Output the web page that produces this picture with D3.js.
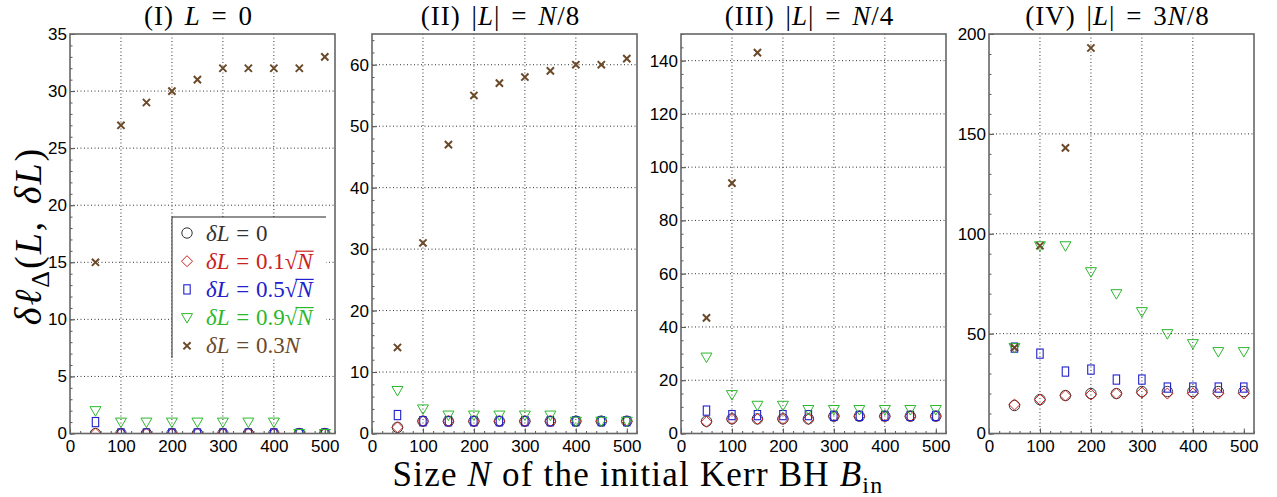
<!DOCTYPE html>
<html><head><meta charset="utf-8">
<script src="https://cdn.jsdelivr.net/npm/d3@7"></script>
<style>body{margin:0;background:#fff} svg{display:block}</style>
</head><body><svg id="c" width="1277" height="497"></svg>
<script>
// ---------- data ----------
const sizesN = [50,100,150,200,250,300,350,400,450,500];
const xTicks = [0,100,200,300,400,500];

// Panel I : L = 0
const p1_dL0  = [0,0,0,0,0,0,0,0,0,0];
const p1_d01  = [0,0,0,0,0,0,0,0,0,0];
const p1_d05  = [1,0,0,0,0,0,0,0,0,0];
const p1_d09  = [2,1,1,1,1,1,1,1,0,0];
const p1_d03N = [15,27,29,30,31,32,32,32,32,33];
// Panel II : |L| = N/8
const p2_dL0  = [1,2,2,2,2,2,2,2,2,2];
const p2_d01  = [1,2,2,2,2,2,2,2,2,2];
const p2_d05  = [3,2,2,2,2,2,2,2,2,2];
const p2_d09  = [7,4,3,3,3,3,3,2,2,2];
const p2_d03N = [14,31,47,55,57,58,59,60,60,61];
// Panel III : |L| = N/4
const p3_dL0  = [4.6,5.5,5.5,5.5,5.5,6.5,6.5,6.5,6.5,6.5];
const p3_d01  = [4.4,5.4,5.4,5.4,5.4,6.5,6.5,6.5,6.5,6.5];
const p3_d05  = [8.6,6.9,6.9,6.9,6.9,6.6,6.6,6.6,6.6,6.6];
const p3_d09  = [28.7,14.6,10.6,10.6,9,9,9,9,9,9];
const p3_d03N = [43.4,94,143,null,null,null,null,null,null,null];
// Panel IV : |L| = 3N/8
const p4_dL0  = [14,17,19,20,20,21,21,21,21,21];
const p4_d01  = [14.5,17,19,19.5,20,20.5,20,20,20,20];
const p4_d05  = [43,40,31,32,27,27,23,23,23,23];
const p4_d09  = [43,94,94,81,70,61,50,45,41,41];
const p4_d03N = [43,94,143,193,null,null,null,null,null,null];

const yMaxes   = [35,65,150,200];
const yMajor   = [5,10,20,50];
const yMinor   = [1,2,5,10];
const legendLabels = [
  [["δL",1],[" = 0",0]],
  [["δL",1],[" = 0.1",0],["√",2],["N",3]],
  [["δL",1],[" = 0.5",0],["√",2],["N",3]],
  [["δL",1],[" = 0.9",0],["√",2],["N",3]],
  [["δL",1],[" = 0.3",0],["N",1]]
];
const titles = [
  [["(I) ",0],["L",1],[" = 0",0]],
  [["(II) |",0],["L",1],["| = ",0],["N",1],["/8",0]],
  [["(III) |",0],["L",1],["| = ",0],["N",1],["/4",0]],
  [["(IV) |",0],["L",1],["| = 3",0],["N",1],["/8",0]]
];
const panelData = [
  [p1_dL0,p1_d01,p1_d05,p1_d09,p1_d03N],
  [p2_dL0,p2_d01,p2_d05,p2_d09,p2_d03N],
  [p3_dL0,p3_d01,p3_d05,p3_d09,p3_d03N],
  [p4_dL0,p4_d01,p4_d05,p4_d09,p4_d03N]
];

// ---------- style ----------
const colors = ["#333333","#cc2020","#2020cc","#2cb82c","#6b4a2a"];
const lefts = [70, 372, 681, 989];
const pw = 265, plotTop = 34, plotBottom = 433.5;
const serif = "'Liberation Serif', 'Times New Roman', serif";
const sans = "'Liberation Sans', Arial, sans-serif";

const svg = d3.select("#c");

function marker(g, type, cx, cy, color) {
  if (type === 0) {
    g.append("circle").attr("cx",cx).attr("cy",cy).attr("r",5.2)
      .attr("fill","none").attr("stroke",color).attr("stroke-width",1);
  } else if (type === 1) {
    const s = 5.5;
    g.append("path").attr("d",`M${cx},${cy-s}L${cx+s},${cy}L${cx},${cy+s}L${cx-s},${cy}Z`)
      .attr("fill","none").attr("stroke",color).attr("stroke-width",1);
  } else if (type === 2) {
    g.append("rect").attr("x",cx-3.2).attr("y",cy-4.6).attr("width",6.4).attr("height",9.2)
      .attr("fill","none").attr("stroke",color).attr("stroke-width",1.1);
  } else if (type === 3) {
    const w = 5.5, h = 4;
    g.append("path").attr("d",`M${cx-w},${cy-h}L${cx+w},${cy-h}L${cx},${cy+h+1.5}Z`)
      .attr("fill","none").attr("stroke",color).attr("stroke-width",1);
  } else {
    const s = 3.6;
    g.append("path").attr("d",`M${cx-s},${cy-s}L${cx+s},${cy+s}M${cx-s},${cy+s}L${cx+s},${cy-s}`)
      .attr("fill","none").attr("stroke",color).attr("stroke-width",2);
  }
}

function richText(sel, parts) {
  parts.forEach(([t,f]) => {
    const ts = sel.append("tspan").text(t);
    if (f === 1 || f === 3) ts.attr("font-style","italic");
  });
}

panelData.forEach((series, i) => {
  const x0 = lefts[i];
  const x = d3.scaleLinear().domain([0,520]).range([x0, x0+pw]);
  const y = d3.scaleLinear().domain([0,yMaxes[i]]).range([plotBottom, plotTop]);
  const g = svg.append("g");

  // grid
  const yGrid = d3.range(yMajor[i], yMaxes[i]-1e-9, yMajor[i]);
  g.selectAll(".hg").data(yGrid).join("line")
    .attr("x1",x0).attr("x2",x0+pw).attr("y1",d=>y(d)).attr("y2",d=>y(d))
    .attr("stroke","#333").attr("stroke-width",1).attr("stroke-dasharray","1,2.5");
  g.selectAll(".vg").data([100,200,300,400]).join("line")
    .attr("x1",d=>x(d)).attr("x2",d=>x(d)).attr("y1",plotTop).attr("y2",plotBottom)
    .attr("stroke","#333").attr("stroke-width",1).attr("stroke-dasharray","1,2.5");

  // axes
  const yAx = g.append("g").attr("transform",`translate(${x0},0)`)
    .call(d3.axisLeft(y).tickValues(d3.range(0,yMaxes[i]+1e-9,yMajor[i])).tickSize(-5).tickPadding(3));
  const yAxMin = g.append("g").attr("transform",`translate(${x0},0)`)
    .call(d3.axisLeft(y).tickValues(d3.range(0,yMaxes[i]+1e-9,yMinor[i])).tickSize(-2.5).tickFormat(""));
  const xAx = g.append("g").attr("transform",`translate(0,${plotBottom})`)
    .call(d3.axisBottom(x).tickValues(xTicks).tickSize(-5).tickPadding(4));
  const xAxMin = g.append("g").attr("transform",`translate(0,${plotBottom})`)
    .call(d3.axisBottom(x).tickValues(d3.range(0,521,20)).tickSize(-2.5).tickFormat(""));
  [yAx,yAxMin,xAx,xAxMin].forEach(a => {
    a.select(".domain").remove();
    a.selectAll("line").attr("stroke","#555").attr("stroke-width",1);
    a.selectAll("text").attr("font-family",sans).attr("font-size",17).attr("fill","#000");
  });
  xAx.selectAll("text").attr("dy","0.85em");

  // clip
  const cid = "clip"+i;
  svg.append("clipPath").attr("id",cid).append("rect")
    .attr("x",x0).attr("y",plotTop).attr("width",pw).attr("height",plotBottom-plotTop);
  const mg = g.append("g").attr("clip-path",`url(#${cid})`);
  series.forEach((vals, s) => {
    vals.forEach((v, k) => {
      if (v === null) return;
      marker(mg, s, x(sizesN[k]), y(v), colors[s]);
    });
  });

  // frame
  g.append("rect").attr("x",x0).attr("y",plotTop).attr("width",pw).attr("height",plotBottom-plotTop)
    .attr("fill","none").attr("stroke","#666").attr("stroke-width",1.6);

  // title
  const tt = svg.append("text").attr("x",x0+pw/2-4).attr("y",25).attr("text-anchor","middle")
    .attr("font-family",serif).attr("font-size",27).attr("letter-spacing",1).attr("word-spacing",3);
  richText(tt, titles[i]);
});

// legend
const lg = svg.append("g");
lg.append("rect").attr("x",172).attr("y",217).attr("width",154).attr("height",141).attr("fill","#fff");
lg.append("line").attr("x1",172).attr("x2",326).attr("y1",217).attr("y2",217).attr("stroke","#222").attr("stroke-width",1);
lg.append("line").attr("x1",172).attr("x2",172).attr("y1",217).attr("y2",358).attr("stroke","#222").attr("stroke-width",1);
legendLabels.forEach((parts, s) => {
  const cy = 233 + s*28.2;
  marker(lg, s, 187, cy, colors[s]);
  const t = lg.append("text").attr("x",206).attr("y",cy+7.5).attr("font-family",serif)
    .attr("font-size",23).attr("fill",colors[s]).attr("word-spacing",1);
  richText(t, parts);
  const full = parts.map(p=>p[0]).join("");
  const ri = full.indexOf("√");
  if (ri >= 0) {
    const node = t.node();
    const er = node.getExtentOfChar(ri);
    const en = node.getExtentOfChar(full.length-1);
    lg.append("line").attr("x1",er.x+er.width*0.85).attr("x2",en.x+en.width+1)
      .attr("y1",er.y+2.5).attr("y2",er.y+2.5).attr("stroke",colors[s]).attr("stroke-width",1.2);
  }
});

// y label
const yl = svg.append("text").attr("transform","translate(41,236) rotate(-90)")
  .attr("text-anchor","middle").attr("font-family",serif).attr("font-size",38)
  .attr("letter-spacing",2).attr("word-spacing",4);
yl.append("tspan").attr("font-style","italic").text("δℓ");
yl.append("tspan").attr("font-size",26).attr("dy",8).text("Δ");
yl.append("tspan").attr("dy",-8).text("(");
yl.append("tspan").attr("font-style","italic").text("L");
yl.append("tspan").text(", ");
yl.append("tspan").attr("font-style","italic").text("δL");
yl.append("tspan").text(")");

// x label
const xl = svg.append("text").attr("x",638).attr("y",486).attr("text-anchor","middle")
  .attr("font-family",serif).attr("font-size",35).attr("letter-spacing",1.2);
xl.append("tspan").text("Size ");
xl.append("tspan").attr("font-style","italic").text("N");
xl.append("tspan").text(" of the initial Kerr BH ");
xl.append("tspan").attr("font-style","italic").text("B");
xl.append("tspan").attr("font-size",24).attr("dy",7).text("in");
</script></body></html>
